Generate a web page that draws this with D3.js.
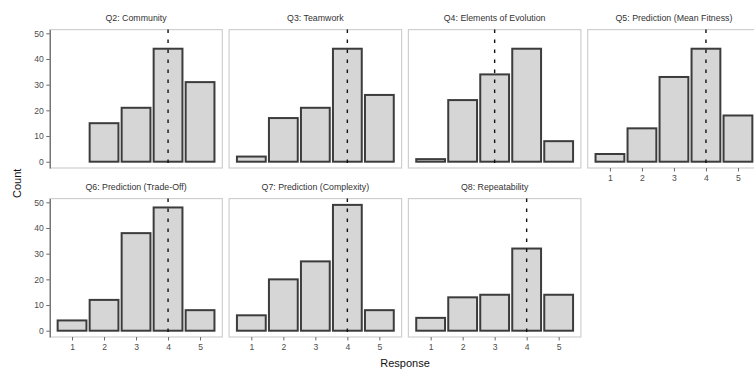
<!DOCTYPE html>
<html><head><meta charset="utf-8">
<script src="https://cdn.jsdelivr.net/npm/d3@7"></script>
<style>body{margin:0;background:#fff;} svg{display:block;font-family:"Liberation Sans",Arial,sans-serif;}</style>
</head><body>
<svg id="chart" width="754" height="370"></svg>
<script>
const titles = ["Q2: Community","Q3: Teamwork","Q4: Elements of Evolution","Q5: Prediction (Mean Fitness)","Q6: Prediction (Trade-Off)","Q7: Prediction (Complexity)","Q8: Repeatability"];
const responses = [1,2,3,4,5];
const counts = [
  [0,15,21,44,31],
  [2,17,21,44,26],
  [1,24,34,44,8],
  [3,13,33,44,18],
  [4,12,38,48,8],
  [6,20,27,49,8],
  [5,13,14,32,14]
];
const medians = [4,4,3,4,4,4,4];
const yTicks = [0,10,20,30,40,50];
const xLabel = "Response", yLabel = "Count";

const svg = d3.select("#chart");
const L = 49.8, panelW = 172.5, colStep = 179.3;
const rows = [{top:29.6,bottom:168},{top:198.6,bottom:337}];
const ymax = d3.max(counts.flat());
const pad = 0.05;

counts.forEach((vals,i)=>{
  const col = i%4, row = Math.floor(i/4);
  const x0 = L + col*colStep;
  const r = rows[row];
  const x = d3.scaleLinear().domain([0.55-0.245,5.45+0.245]).range([x0,x0+panelW]);
  const y = d3.scaleLinear().domain([-pad*ymax, ymax*(1+pad)]).range([r.bottom,r.top]);
  const g = svg.append("g");
  g.append("text").attr("x",x0+panelW/2).attr("y",r.top-8.5).attr("text-anchor","middle")
    .attr("font-size",8.8).attr("fill","#333").text(titles[i]);
  g.append("rect").attr("x",x0).attr("y",r.top).attr("width",panelW).attr("height",r.bottom-r.top)
    .attr("fill","#fff").attr("stroke","#cfcfcf").attr("stroke-width",1.2);
  g.selectAll("rect.bar").data(responses.map((d,j)=>({r:d,c:vals[j]})).filter(d=>d.c>0)).join("rect")
    .attr("class","bar")
    .attr("x",d=>x(d.r-0.45)).attr("width",d=>x(d.r+0.45)-x(d.r-0.45))
    .attr("y",d=>y(d.c)).attr("height",d=>y(0)-y(d.c))
    .attr("fill","#d6d6d6").attr("stroke","#3c3c3c").attr("stroke-width",2);
  g.append("line").attr("x1",x(medians[i])).attr("x2",x(medians[i]))
    .attr("y1",r.top).attr("y2",r.bottom).attr("stroke","#111").attr("stroke-width",1.4)
    .attr("stroke-dasharray","3.5,6.5");
  if(col===0){
    const ax = d3.axisLeft(y).tickValues(yTicks).tickSize(3.5).tickSizeOuter(0).tickPadding(2.5);
    const a = g.append("g").attr("transform",`translate(${x0},0)`).call(ax);
    a.select(".domain").attr("stroke","#6a6a6a").attr("stroke-width",1.2);
    a.selectAll(".tick line").attr("stroke","#6a6a6a");
    a.selectAll("text").attr("font-size",8.6).attr("fill","#4d4d4d").attr("font-family","Liberation Sans, Arial, sans-serif");
  }
  if(row===1 || i===3){
    const ax = d3.axisBottom(x).tickValues(responses).tickSize(3.5).tickSizeOuter(0).tickPadding(3).tickFormat(d3.format("d"));
    const a = g.append("g").attr("transform",`translate(0,${r.bottom})`).call(ax);
    a.select(".domain").remove();
    a.selectAll(".tick line").attr("stroke","#6a6a6a");
    a.selectAll("text").attr("font-size",8.6).attr("fill","#4d4d4d").attr("font-family","Liberation Sans, Arial, sans-serif");
  }
});

svg.append("text").attr("transform",`translate(21,${(rows[0].top+rows[1].bottom)/2}) rotate(-90)`)
  .attr("text-anchor","middle").attr("font-size",11).attr("fill","#111").text(yLabel);
svg.append("text").attr("x",L+(3*colStep+panelW)/2).attr("y",367).attr("text-anchor","middle")
  .attr("font-size",11).attr("fill","#111").text(xLabel);
</script>
</body></html>
